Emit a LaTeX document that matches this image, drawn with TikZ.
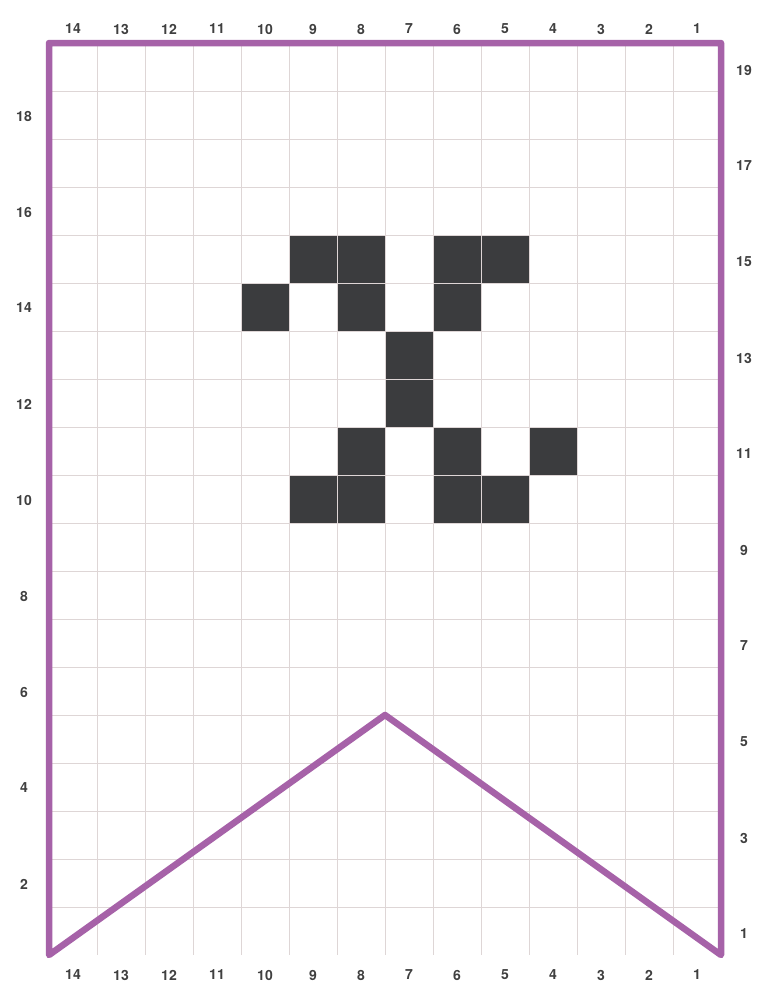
\documentclass[tikz,border=0pt]{standalone}
\usepackage{fontspec}
\setmainfont{TeX Gyre Heros}
\definecolor{banner}{HTML}{A662A8}
\definecolor{gridc}{HTML}{DED6D6}
\definecolor{cellc}{HTML}{3B3C3E}
\definecolor{labc}{HTML}{404040}
\begin{document}
\begin{tikzpicture}[x=1pt,y=-1pt,
  lab/.style={font=\fontsize{14}{14}\selectfont\bfseries, text=labc, inner sep=0pt},
  gridline/.style={draw=gridc, line width=1pt},
  cell/.style={fill=cellc},
  bannerline/.style={draw=banner, line width=6.5pt, line join=round}]
\useasboundingbox (0,0) rectangle (761,985);
\fill[white] (0,0) rectangle (761,985);
% filled cells (column label, row label)
\foreach \c/\r in {9/15,8/15,6/15,5/15,10/14,8/14,6/14,7/13,7/12,8/11,6/11,4/11,9/10,8/10,6/10,5/10}
  \path[cell] ({49+(14-\c)*48},{955-\r*48}) rectangle ++(48,48);
% grid
\foreach \i in {1,...,13} \draw[gridline] ({49+\i*48},43) -- ({49+\i*48},955);
\foreach \j in {1,...,18} \draw[gridline] (49,{43+\j*48}) -- (721,{43+\j*48});
% column labels
\foreach \k in {1,...,14} {
  \node[lab] (top\k) at ({73+(14-\k)*48},29) {\k};
  \node[lab] (bot\k) at ({73+(14-\k)*48},975) {\k};
}
% row labels
\foreach \r in {2,4,...,18} \node[lab] (left\r) at (24,{956-(\r-0.5)*48}) {\r};
\foreach \r in {1,3,...,19} \node[lab] (right\r) at (744,{958-(\r-0.5)*48}) {\r};
% banner outline
\coordinate (tl) at (49,43);
\coordinate (tr) at (721,43);
\coordinate (br) at (721,955);
\coordinate (peak) at (385,715);
\coordinate (bl) at (49,955);
\draw[bannerline] (tl) -- (tr) -- (br) -- (peak) -- (bl) -- cycle;
\end{tikzpicture}
\end{document}
